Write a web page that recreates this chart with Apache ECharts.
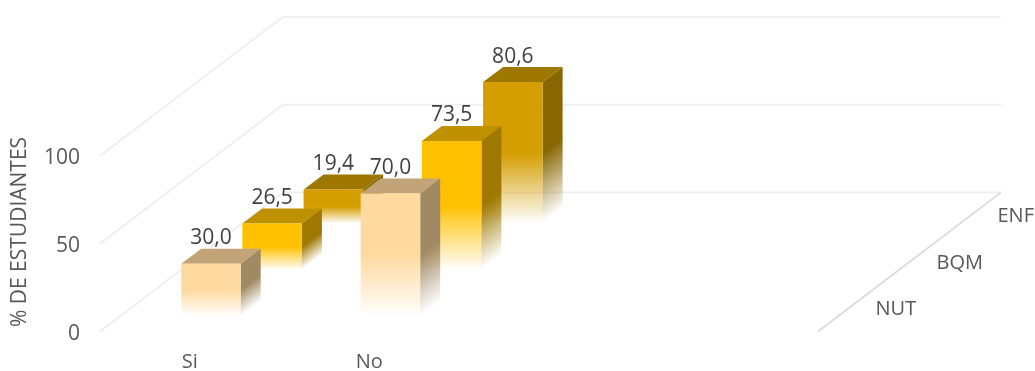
<!DOCTYPE html>
<html>
<head>
<meta charset="utf-8">
<style>html,body{margin:0;padding:0;background:#fff}#c{width:1035px;height:371px}</style>
<script src="https://cdn.jsdelivr.net/npm/echarts@6/dist/echarts.min.js"></script>
</head>
<body>
<div id="c"></div>
<script>
const categories = ['Si', 'No', '', ''];
const depthLabels = ['NUT', 'BQM', 'ENF'];
const yTicks = [0, 50, 100];
const nut = [30.0, 70.0, null, null];
const bqm = [26.5, 73.5, null, null];
const enf = [19.4, 80.6, null, null];
const yTitle = '% DE ESTUDIANTES';

const FONT = '"Open Sans", "Noto Sans", sans-serif';
const DX = 61, DY = -46.4;           // one depth slot, in pixels
const BAR_STEP = 61.2;
const BAR_DX = 20, BAR_DY = -15;     // depth of one box
const GAP_X = 21.2, GAP_Y = -15.2;   // front gap inside a slot
const BAR_W = 59.5;

const palettes = [
  { front: '#FFDAA0', top: '#C2A478', side: '#A08A64', rgb: '255,218,160', srgb: '160,138,100' },
  { front: '#FFC000', top: '#BF9000', side: '#9E7800', rgb: '255,192,0', srgb: '158,120,0' },
  { front: '#D49D00', top: '#9E7700', side: '#886600', rgb: '212,157,0', srgb: '136,102,0' }
];

function fade(x, y, x2, y2, solid, rgb) {
  return { type: 'linear', x, y, x2, y2, global: true, colorStops: [
    { offset: 0, color: 'rgba(' + rgb + ',1)' },
    { offset: solid, color: 'rgba(' + rgb + ',1)' },
    { offset: 1, color: 'rgba(' + rgb + ',0)' }
  ] };
}

function barGeom(api, d) {
  const base = api.coord([api.value(0), 0]);
  const top = api.coord([api.value(0), api.value(1)]);
  const x = base[0] - BAR_W / 2 + GAP_X + d * BAR_STEP;
  const off = GAP_Y + d * DY;
  return { x, x2: x + BAR_W, yb: base[1] + off, yt: top[1] + off };
}

function boxRenderer(d) {
  return function (params, api) {
    if (api.value(1) == null || isNaN(api.value(1))) return;
    const g = barGeom(api, d), p = palettes[d];
    const h = g.yb - g.yt;
    const pts = (a) => ({ shape: { points: a } });
    return { type: 'group', children: [
      Object.assign({ type: 'polygon', style: { fill: p.top } },
        pts([[g.x, g.yt], [g.x2, g.yt], [g.x2 + BAR_DX, g.yt + BAR_DY], [g.x + BAR_DX, g.yt + BAR_DY]])),
      Object.assign({ type: 'polygon', style: { fill: fade(g.x2, g.yt, g.x2 + 0.48 * h, g.yt + 0.64 * h, 0.5, p.srgb) } },
        pts([[g.x2, g.yt], [g.x2 + BAR_DX, g.yt + BAR_DY], [g.x2 + BAR_DX, g.yb + BAR_DY], [g.x2, g.yb]])),
      Object.assign({ type: 'polygon', style: { fill: fade(g.x, g.yt, g.x, g.yb, 0.5, p.rgb) } },
        pts([[g.x, g.yt], [g.x2, g.yt], [g.x2, g.yb], [g.x, g.yb]]))
    ] };
  };
}

function labelRenderer(d) {
  return function (params, api) {
    if (api.value(1) == null || isNaN(api.value(1))) return;
    const g = barGeom(api, d);
    return { type: 'text', x: (g.x + g.x2) / 2, y: g.yt - 25.5, style: {
      text: api.value(1).toFixed(1).replace('.', ','), align: 'center', verticalAlign: 'middle',
      fill: '#404040', fontFamily: FONT, fontSize: 21 } };
  };
}

function seriesData(vals) { return vals.map((v, i) => [i, v]); }

const series = [];
// gridlines on the side wall and back wall, plus the floor edge
series.push({
  type: 'custom', coordinateSystem: 'cartesian2d', silent: true, z: 1,
  data: yTicks.map(v => [0, v]),
  encode: { x: 0, y: 1 }, clip: false,
  renderItem: function (params, api) {
    const c = api.coord([0, api.value(1)]);
    const xl = c[0] - api.size([1, 0])[0] / 2;
    const xr = xl + api.size([1, 0])[0] * categories.length;
    const dx = DX * depthLabels.length, dy = DY * depthLabels.length;
    const kids = [{ type: 'polyline', shape: { points: [[xl, c[1]], [xl + dx, c[1] + dy], [xr + dx, c[1] + dy]] },
      style: { stroke: '#EEEEEE', lineWidth: 1.8, fill: 'none' } }];
    if (api.value(1) === 0) kids.push({ type: 'line', shape: { x1: xr, y1: c[1], x2: xr + dx, y2: c[1] + dy },
      style: { stroke: '#D9D9D9', lineWidth: 1.6 } });
    return { type: 'group', children: kids };
  }
});
[[enf, 2], [bqm, 1], [nut, 0]].forEach(([vals, d]) => {
  series.push({ type: 'custom', name: depthLabels[d], coordinateSystem: 'cartesian2d', z: 2, clip: false,
    data: seriesData(vals), encode: { x: 0, y: 1 }, renderItem: boxRenderer(d) });
});
[[enf, 2], [bqm, 1], [nut, 0]].forEach(([vals, d]) => {
  series.push({ type: 'custom', coordinateSystem: 'cartesian2d', z: 5, silent: true, clip: false,
    data: seriesData(vals), encode: { x: 0, y: 1 }, renderItem: labelRenderer(d) });
});
// depth axis labels
series.push({
  type: 'custom', coordinateSystem: 'cartesian2d', z: 5, silent: true, clip: false,
  data: depthLabels.map((n, i) => [categories.length - 1, 0, i]),
  encode: { x: 0, y: 1 },
  renderItem: function (params, api) {
    const i = params.dataIndex;
    const c = api.coord([categories.length - 1, 0]);
    const xr = c[0] + api.size([1, 0])[0] / 2;
    return { type: 'text', x: xr + DX * (i + 0.5) + 27, y: c[1] + DY * (i + 0.5) + 1, style: {
      text: depthLabels[i], align: 'left', verticalAlign: 'middle',
      fill: '#595959', fontFamily: FONT, fontSize: 20 } };
  }
});

const chart = echarts.init(document.getElementById('c'), null, { renderer: 'canvas' });
chart.setOption({
  animation: false,
  backgroundColor: '#fff',
  grid: { left: 100, top: 156, width: 718, height: 175.5, containLabel: false, outerBoundsMode: 'none' },
  xAxis: { type: 'category', data: categories,
    axisLine: { show: false }, axisTick: { show: false }, splitLine: { show: false },
    axisLabel: { color: '#595959', fontFamily: FONT, fontSize: 20, margin: 21, interval: 0 } },
  yAxis: { type: 'value', min: 0, max: 100, interval: 50,
    axisLine: { show: false }, axisTick: { show: false }, splitLine: { show: false },
    axisLabel: { margin: 20, formatter: '{n|{value}}',
      rich: { n: { color: '#595959', fontFamily: FONT, fontSize: 21, padding: [5, 0, 0, 0] } } } },
  graphic: [{ type: 'text', x: 20, y: 232, rotation: Math.PI / 2, style: {
    text: yTitle, align: 'center', verticalAlign: 'middle',
    fill: '#595959', fontFamily: FONT, fontSize: 21 } }],
  series
});
</script>
</body>
</html>
